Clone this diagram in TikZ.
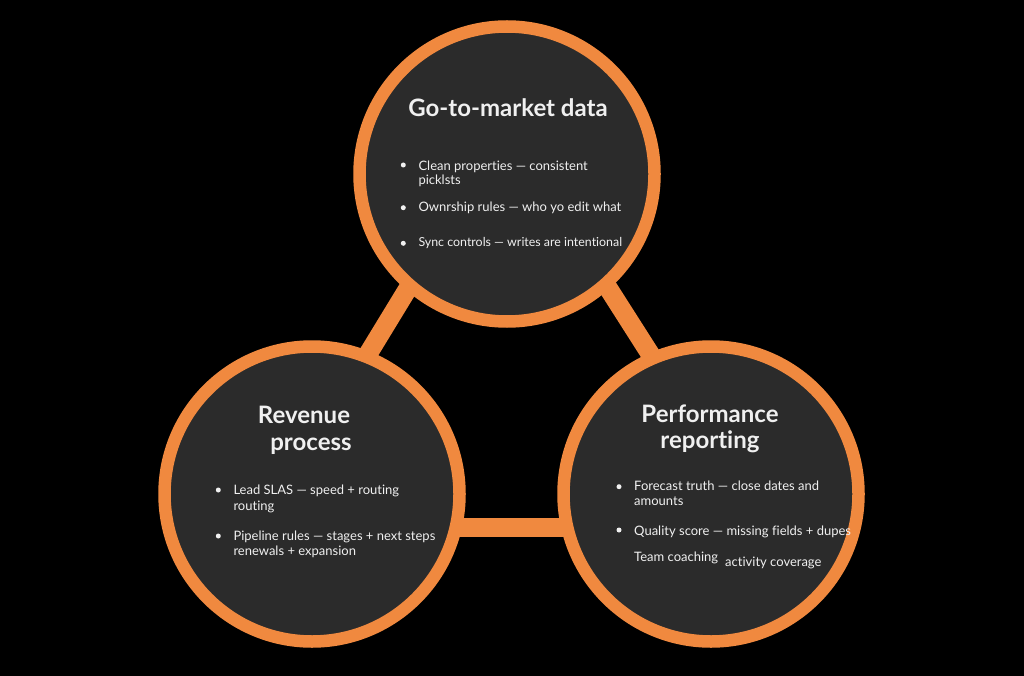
\documentclass[tikz,border=0pt]{standalone}
\usepackage{fontspec}
\setmainfont{Lato}[RawFeature={-liga;-dlig;-clig}]
\usetikzlibrary{calc,backgrounds}
\definecolor{ring}{HTML}{F0893F}
\definecolor{disc}{HTML}{2B2B2B}
\definecolor{ink}{HTML}{F0F0F0}
\begin{document}
\begin{tikzpicture}[x=1pt,y=-1pt,
  hub/.style={circle, draw=ring, fill=disc, line width=12.5pt, minimum size=295pt, inner sep=0pt},
  bar/.style={draw=ring, line width=19pt},
  title/.style={text=ink, font=\bfseries\fontsize{24}{28}\selectfont, anchor=base, inner sep=0pt},
  item/.style={text=ink, font=\fontsize{13}{15}\selectfont, anchor=base west, inner sep=0pt},
  dot/.style={circle, fill=ink, minimum size=5pt, inner sep=0pt}]
\useasboundingbox (0,0) rectangle (1024,676);

% the three hubs
\node[hub] (T) at (507,174) {};
\node[hub] (L) at (312,494) {};
\node[hub] (R) at (711,494) {};

% black ground and the links between hubs, kept behind the hubs
\begin{pgfonlayer}{background}
  \fill[black] (0,0) rectangle (1024,676);
  \draw[bar] ($(T)!25pt!-90:(L)$) -- ($(L)!25pt!90:(T)$);
  \draw[bar] ($(T)!24pt!90:(R)$) -- ($(R)!24pt!-90:(T)$);
  \draw[bar] ($(L)!33pt!-90:(R)$) -- ($(R)!33pt!90:(L)$);
\end{pgfonlayer}

% top hub
\node[title] (t0) at (508,116.7) {Go-to-market data};
\node[dot] (td1) at (403.3,165) {};
\node[item] (t1a) at (418.3,170.5) {Clean properties — consistent};
\node[item] (t1b) at (418.3,184.5) {picklsts};
\node[dot] (td2) at (403.3,207.7) {};
\node[item] (t2) at (418.3,211.7) {Ownrship rules — who yo edit what};
\node[dot] (td3) at (403.3,243.3) {};
\node[item, font=\fontsize{12.4}{15}\selectfont] (t3) at (418.3,246.7) {Sync controls — writes are intentional};

% left hub
\node[title] (l0a) at (304,423.3) {Revenue};
\node[title] (l0b) at (311,450) {process};
\node[dot] (ld1) at (218.3,490) {};
\node[item] (l1a) at (233.3,494.3) {Lead SLAS — speed + routing};
\node[item] (l1b) at (233.3,510) {routing};
\node[dot] (ld2) at (218.3,536) {};
\node[item] (l2a) at (233.3,540) {Pipeline rules — stages + next steps};
\node[item] (l2b) at (233.3,555.7) {renewals + expansion};

% right hub
\node[title] (r0a) at (710,422.3) {Performance};
\node[title] (r0b) at (710,448.3) {reporting};
\node[dot] (rd1) at (619,486.7) {};
\node[item] (r1a) at (634,490) {Forecast truth — close dates and};
\node[item] (r1b) at (634,505) {amounts};
\node[dot] (rd2) at (619,530) {};
\node[item] (r2) at (634,535) {Quality score — missing fields + dupes};
\node[item] (r3a) at (634,561.7) {Team coaching};
\node[item] (r3b) at (725,566) {activity coverage};
\end{tikzpicture}
\end{document}
